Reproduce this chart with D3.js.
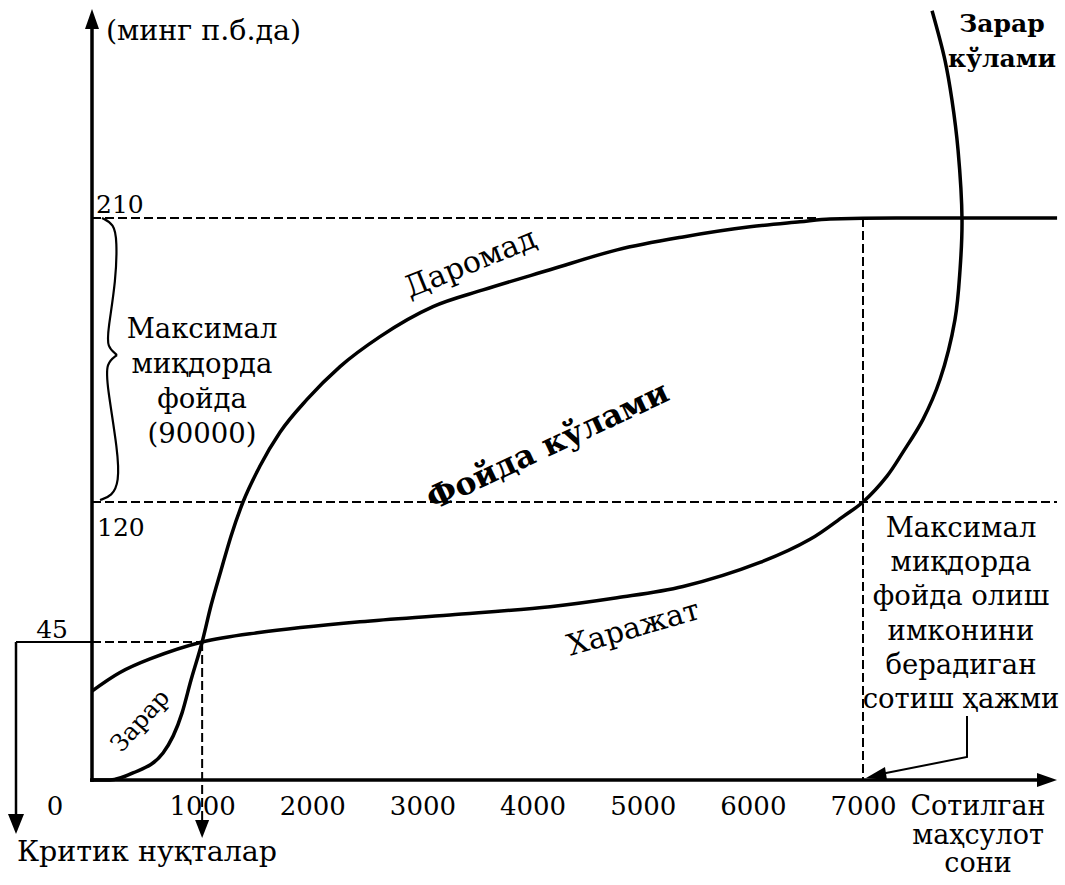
<!DOCTYPE html>
<html><head><meta charset="utf-8">
<script src="https://cdn.jsdelivr.net/npm/d3@7"></script>
<style>
body{margin:0;background:#fff}
svg{display:block;background:#fff}
text{font-family:"DejaVu Serif","Liberation Serif",serif;fill:#000}
</style>
</head><body>
<svg id="c" width="1065" height="885"></svg>
<script>
// ---- data (quantity sold, value in thousand monetary units) ----
const quantityTicks = [1000, 2000, 3000, 4000, 5000, 6000, 7000];
const valueLevels = [45, 120, 210];
const criticalQ = 1000, criticalV = 45;
const optimumQ = 7000;
const revenueQ = [0, 163, 372, 645, 817, 899, 1000, 1080, 1171, 1262, 1371, 1525, 1707, 1952, 2252, 2615, 3096, 3550, 4158, 4767, 5366, 5974, 6428, 6701, 7300, 8762];
const revenueV = [0, 0, 2.3, 8.8, 21.8, 32.6, 45, 64.4, 83.3, 101.7, 120, 131.4, 142.1, 152.5, 162.9, 172.4, 181.9, 187.2, 193.6, 199.9, 204.0, 207.2, 208.8, 209.7, 210, 210];
const costQ = [0, 250, 527, 1000, 1500, 2433, 3250, 4158, 4767, 5366, 6065, 6519, 6819, 7000, 7218, 7363, 7545, 7699, 7835, 7881, 7899, 7863, 7808, 7745, 7627];
const costV = [29, 35, 39.5, 45, 49.9, 55.8, 59.5, 63.9, 68.7, 74.7, 87.6, 100.0, 112.2, 120, 128.2, 135.8, 146.2, 158.8, 177.8, 193.6, 209.4, 231.5, 247.3, 259.9, 275.7];

const svg = d3.select('#c');
const x = d3.scaleLinear().domain([0, 7000]).range([92, 863]);
const y = d3.scaleLinear().domain([0, 45, 120, 210]).range([780, 642, 502, 218]);
const X0 = x(0), Y0 = y(0), XEND = 1057, YTOP = 9;

// ---- reference lines ----
const dash = '9,4';
svg.append('line').attr('x1', X0).attr('x2', x(6600)).attr('y1', y(210)).attr('y2', y(210))
  .attr('stroke', '#000').attr('stroke-width', 2).attr('stroke-dasharray', dash);
svg.append('line').attr('x1', X0).attr('x2', XEND).attr('y1', y(120)).attr('y2', y(120))
  .attr('stroke', '#000').attr('stroke-width', 2).attr('stroke-dasharray', dash);
svg.append('line').attr('x1', X0).attr('x2', x(criticalQ)).attr('y1', y(criticalV)).attr('y2', y(criticalV))
  .attr('stroke', '#000').attr('stroke-width', 2).attr('stroke-dasharray', dash);
svg.append('line').attr('x1', 16).attr('x2', X0).attr('y1', y(criticalV)).attr('y2', y(criticalV))
  .attr('stroke', '#000').attr('stroke-width', 2);
svg.append('line').attr('x1', 16).attr('x2', 16).attr('y1', y(criticalV)).attr('y2', 816)
  .attr('stroke', '#000').attr('stroke-width', 2.5);
svg.append('polygon').attr('points', [[16, 834], [8, 814], [24, 814]].join(' ')).attr('fill', '#000');
svg.append('line').attr('x1', x(criticalQ)).attr('x2', x(criticalQ)).attr('y1', y(criticalV)).attr('y2', 822)
  .attr('stroke', '#000').attr('stroke-width', 2).attr('stroke-dasharray', dash);
svg.append('polygon').attr('points', [[x(criticalQ), 838], [x(criticalQ) - 7, 820], [x(criticalQ) + 7, 820]].join(' ')).attr('fill', '#000');
svg.append('line').attr('x1', x(optimumQ)).attr('x2', x(optimumQ)).attr('y1', y(210)).attr('y2', Y0)
  .attr('stroke', '#000').attr('stroke-width', 2).attr('stroke-dasharray', dash);

// ---- curves ----
const revLine = d3.line().x(d => x(d[0])).y(d => y(d[1])).curve(d3.curveMonotoneX);
svg.append('path').datum(revenueQ.map((q, i) => [q, revenueV[i]]))
  .attr('d', revLine).attr('fill', 'none').attr('stroke', '#000').attr('stroke-width', 3.5);
const costLine = d3.line().x(d => x(d[0])).y(d => y(d[1])).curve(d3.curveCatmullRom.alpha(0.5));
svg.append('path').datum(costQ.map((q, i) => [q, costV[i]]))
  .attr('d', costLine).attr('fill', 'none').attr('stroke', '#000').attr('stroke-width', 3.5);

// ---- axes ----
svg.append('line').attr('x1', X0).attr('x2', X0).attr('y1', Y0 + 2).attr('y2', YTOP + 14)
  .attr('stroke', '#000').attr('stroke-width', 3.5);
svg.append('polygon').attr('points', [[X0, YTOP], [X0 - 7, YTOP + 20], [X0 + 7, YTOP + 20]].join(' ')).attr('fill', '#000');
svg.append('line').attr('x1', X0 - 2).attr('x2', XEND - 14).attr('y1', Y0).attr('y2', Y0)
  .attr('stroke', '#000').attr('stroke-width', 3.5);
svg.append('polygon').attr('points', [[XEND, Y0], [XEND - 20, Y0 - 7], [XEND - 20, Y0 + 7]].join(' ')).attr('fill', '#000');

const xAxis = svg.append('g').attr('transform', `translate(0,${Y0})`)
  .call(d3.axisBottom(x).tickValues(quantityTicks).tickSize(0).tickPadding(17).tickFormat(d3.format('d')));
xAxis.select('.domain').remove();
xAxis.selectAll('text').style('font-family', '"DejaVu Serif",serif').style('font-size', '26px').attr('fill', '#000');
svg.append('text').attr('x', X0 - 37).attr('y', 815).attr('text-anchor', 'middle').style('font-size', '26px').text('0');

svg.append('text').attr('x', X0 + 4).attr('y', y(210) - 5).style('font-size', '25px').text('210');
svg.append('text').attr('x', X0 + 5).attr('y', y(120) + 34).style('font-size', '25px').text('120');
svg.append('text').attr('x', X0 - 24).attr('y', y(45) - 4).attr('text-anchor', 'end').style('font-size', '25px').text('45');

// ---- brace ----
const yT = y(210), yB = y(120), yM = y(165) - 5;
const braceTop = [[X0 + 10, yT], [X0 + 22, yT + 6], [X0 + 25, yT + 22], [X0 + 24, yT + 62], [X0 + 16, yM - 25], [X0 + 15, yM - 8], [X0 + 25, yM]];
const braceBot = [[X0 + 25, yM], [X0 + 14, yM + 8], [X0 + 15, yM + 30], [X0 + 26, yB - 50], [X0 + 27, yB - 20], [X0 + 20, yB - 6], [X0 + 8, yB - 2]];
const bl = d3.line().curve(d3.curveBasis);
svg.append('path').attr('d', bl(braceTop)).attr('fill', 'none').attr('stroke', '#000').attr('stroke-width', 2.2);
svg.append('path').attr('d', bl(braceBot)).attr('fill', 'none').attr('stroke', '#000').attr('stroke-width', 2.2);

// ---- texts ----
function block(lines, cx, y0, step, size, weight) {
  lines.forEach((t, i) => svg.append('text').attr('x', cx).attr('y', y0 + i * step)
    .attr('text-anchor', 'middle').style('font-size', size + 'px').style('font-weight', weight || 'normal').text(t));
}
svg.append('text').attr('x', 106).attr('y', 40).style('font-size', '28.5px').text('(минг п.б.да)');
block(['Зарар', 'кўлами'], 1002, 32, 35, 25, 'bold');
block(['Максимал', 'миқдорда', 'фойда', '(90000)'], 202, 338, 35, 27.5);
block(['Максимал', 'миқдорда', 'фойда олиш', 'имконини', 'берадиган', 'сотиш ҳажми'], 961, 537, 34.2, 27.5);
block(['Сотилган', 'маҳсулот', 'сони'], 978, 815, 28.5, 27);
svg.append('text').attr('x', 147).attr('y', 861).attr('text-anchor', 'middle').style('font-size', '28.5px').text('Критик нуқталар');

function rot(t, cx, cy, ang, size, weight) {
  svg.append('text').attr('transform', `translate(${cx},${cy}) rotate(${ang})`)
    .attr('text-anchor', 'middle').style('font-size', size + 'px').style('font-weight', weight || 'normal').text(t);
}
rot('Даромад', 474, 272, -22, 30);
rot('Фойда кўлами', 552, 455, -25, 31.5, 'bold');
rot('Харажат', 636, 637, -16, 29.5);
rot('Зарар', 146, 726, -48, 24);

// ---- pointer from label to optimum quantity ----
svg.append('polyline').attr('points', [[967, 716], [967, 757], [x(optimumQ) + 18, 774]].join(' '))
  .attr('fill', 'none').attr('stroke', '#000').attr('stroke-width', 2);
svg.append('polygon').attr('points', [[x(optimumQ) + 3, 778], [x(optimumQ) + 22, 767], [x(optimumQ) + 24, 780]].join(' ')).attr('fill', '#000');
</script>
</body></html>
